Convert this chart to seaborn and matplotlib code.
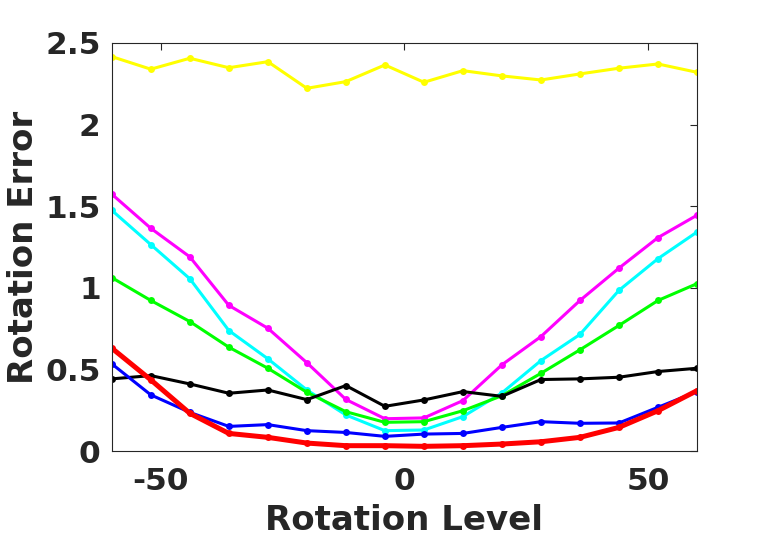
import numpy as np
import pandas as pd
import matplotlib
matplotlib.use("Agg")
import matplotlib.pyplot as plt
import seaborn as sns

rotation = [-60, -52, -44, -36, -28, -20, -12, -4, 4, 12, 20, 28, 36, 44, 52, 60]

yellow = [2.416, 2.339, 2.406, 2.348, 2.385, 2.222, 2.263, 2.365,
          2.259, 2.330, 2.298, 2.273, 2.310, 2.345, 2.371, 2.320]
magenta = [1.574, 1.365, 1.190, 0.893, 0.753, 0.542, 0.317, 0.199,
           0.204, 0.310, 0.529, 0.702, 0.923, 1.121, 1.308, 1.445]
cyan = [1.475, 1.265, 1.056, 0.739, 0.566, 0.375, 0.222, 0.126,
        0.130, 0.212, 0.357, 0.555, 0.715, 0.985, 1.179, 1.342]
green = [1.063, 0.923, 0.794, 0.637, 0.508, 0.361, 0.242, 0.177,
         0.181, 0.248, 0.340, 0.477, 0.621, 0.770, 0.923, 1.026]
black = [0.443, 0.463, 0.412, 0.355, 0.375, 0.316, 0.402, 0.275,
         0.314, 0.365, 0.336, 0.439, 0.443, 0.453, 0.488, 0.508]
blue = [0.535, 0.345, 0.238, 0.152, 0.163, 0.126, 0.115, 0.091,
        0.105, 0.109, 0.146, 0.181, 0.171, 0.173, 0.269, 0.365]
red = [0.631, 0.437, 0.232, 0.109, 0.085, 0.050, 0.034, 0.034,
       0.030, 0.034, 0.044, 0.058, 0.085, 0.146, 0.248, 0.371]

series = [
    ("yellow", yellow, "#ffff00", 2.2),
    ("magenta", magenta, "#ff00ff", 2.2),
    ("cyan", cyan, "#00ffff", 2.2),
    ("green", green, "#00ff00", 2.2),
    ("black", black, "#000000", 2.2),
    ("blue", blue, "#0000ff", 2.2),
    ("red", red, "#ff0000", 3.6),
]

sns.set_style("white")
plt.rcParams["font.family"] = ["DejaVu Sans"]
plt.rcParams["font.weight"] = "bold"
plt.rcParams["axes.unicode_minus"] = False

fig = plt.figure(figsize=(7.71, 5.43), dpi=100)
ax = fig.add_axes([0.145, 0.169, 0.759, 0.752])

for name, vals, color, lw in series:
    df = pd.DataFrame({"rotation": rotation, "error": vals})
    sns.lineplot(data=df, x="rotation", y="error", color=color, linewidth=lw,
                 marker="o", markersize=5, markeredgewidth=0, ax=ax)

ax.set_xlim(-60, 60)
ax.set_ylim(0, 2.5)
ax.set_xticks([-50, 0, 50])
ax.set_yticks([0, 0.5, 1, 1.5, 2, 2.5])
ax.set_yticklabels(["0", "0.5", "1", "1.5", "2", "2.5"])
ax.tick_params(direction="in", length=5, width=0.8, top=True, right=True,
               labelsize=22.5, colors="#262626")
ax.tick_params(axis="x", pad=11)
ax.tick_params(axis="y", pad=8)
for lab in ax.get_xticklabels() + ax.get_yticklabels():
    lab.set_fontweight("bold")
    lab.set_color("#262626")
for sp in ax.spines.values():
    sp.set_color("#262626")
    sp.set_linewidth(0.8)

ax.set_xlabel("Rotation Level", fontsize=24.5, fontweight="bold", color="#262626", labelpad=6)
ax.set_ylabel("Rotation Error", fontsize=24.5, fontweight="bold", color="#262626", labelpad=4)

fig.savefig("out.png", dpi=100, facecolor="white")
